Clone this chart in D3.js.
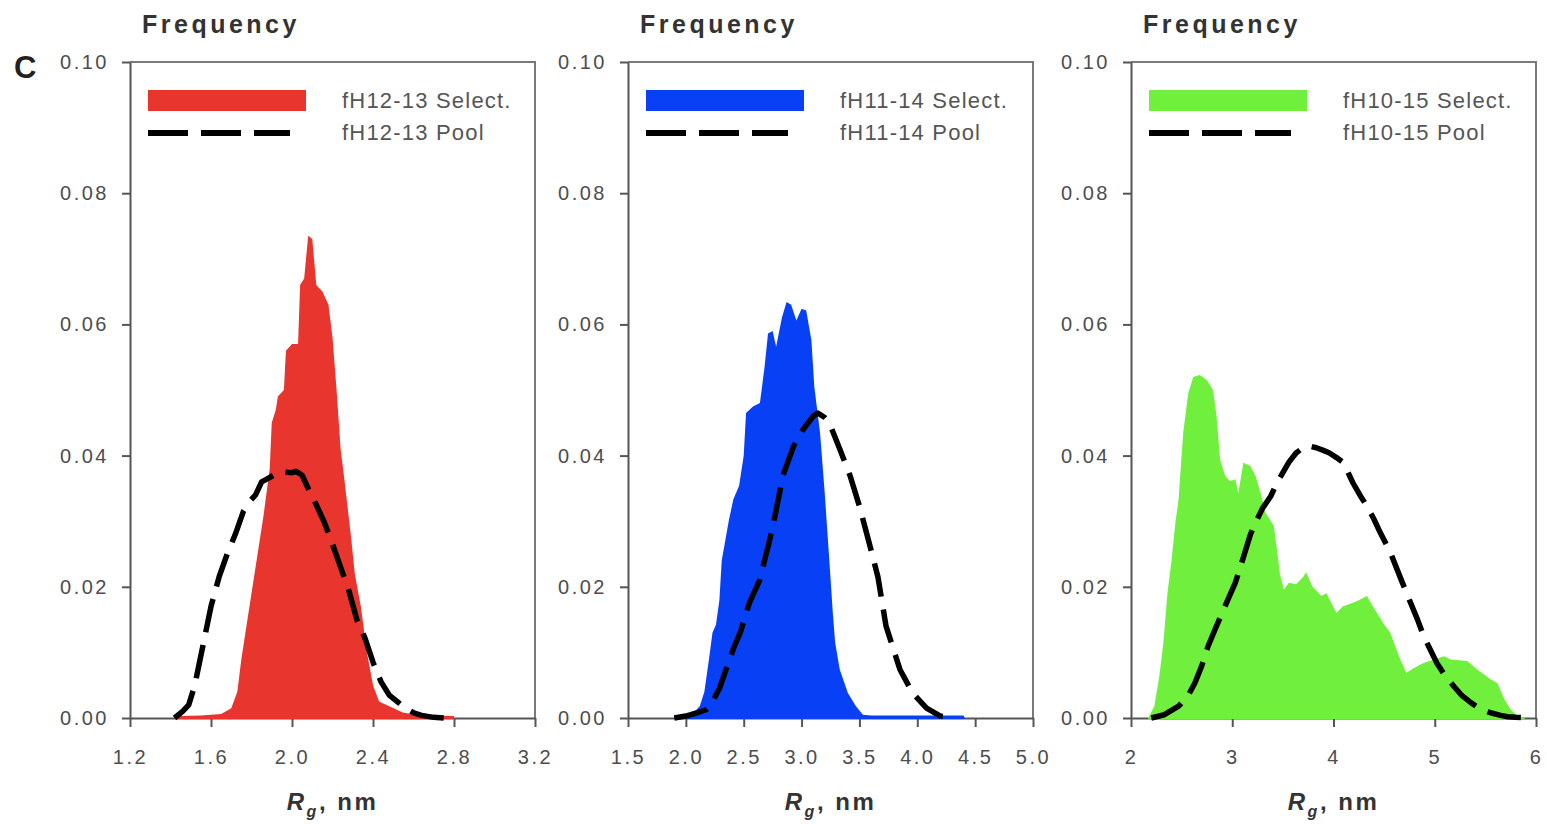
<!DOCTYPE html>
<html><head><meta charset="utf-8">
<script src="https://cdn.jsdelivr.net/npm/d3@7"></script>
<style>
body{margin:0;background:#fff}
svg{display:block}
text{font-family:Arial,"Liberation Sans",Helvetica,sans-serif}
</style>
</head><body>
<svg id="chart" width="1547" height="828"></svg>
<script>
// ---------------- data ----------------
const yTicks = [0, 0.02, 0.04, 0.06, 0.08, 0.10];
const yTickLabels = ["0.00", "0.02", "0.04", "0.06", "0.08", "0.10"];

const xTicks1 = [1.2, 1.6, 2.0, 2.4, 2.8, 3.2];
const xTickLabels1 = ["1.2", "1.6", "2.0", "2.4", "2.8", "3.2"];
const xTicks2 = [1.5, 2.0, 2.5, 3.0, 3.5, 4.0, 4.5, 5.0];
const xTickLabels2 = ["1.5", "2.0", "2.5", "3.0", "3.5", "4.0", "4.5", "5.0"];
const xTicks3 = [2, 3, 4, 5, 6];
const xTickLabels3 = ["2", "3", "4", "5", "6"];

const seriesNames = [
  ["fH12-13 Select.", "fH12-13 Pool"],
  ["fH11-14 Select.", "fH11-14 Pool"],
  ["fH10-15 Select.", "fH10-15 Pool"]
];
const selectColors = ["#E8352D", "#0841F5", "#70EF3C"];

// [Rg (nm), frequency]
const select12_13 = [
  [1.42,0],[1.45,0.0003],[1.55,0.0004],[1.65,0.0006],[1.70,0.0015],[1.73,0.004],
  [1.75,0.009],[1.78,0.015],[1.80,0.019],[1.83,0.025],[1.86,0.031],[1.89,0.038],
  [1.90,0.045],[1.92,0.047],[1.93,0.049],[1.96,0.050],[1.97,0.056],[2.00,0.057],
  [2.03,0.057],[2.04,0.066],[2.06,0.067],[2.08,0.0735],[2.10,0.073],[2.12,0.066],
  [2.15,0.065],[2.18,0.063],[2.20,0.058],[2.22,0.050],[2.24,0.041],[2.26,0.036],
  [2.29,0.028],[2.31,0.022],[2.34,0.017],[2.37,0.010],[2.40,0.005],[2.43,0.0025],
  [2.48,0.0018],[2.55,0.0008],[2.65,0.0004],[2.80,0.0003],[2.80,0]
];
const pool12_13 = [
  [1.42,0],[1.46,0.001],[1.49,0.002],[1.52,0.005],[1.56,0.011],[1.60,0.017],
  [1.64,0.0215],[1.68,0.025],[1.72,0.028],[1.76,0.0315],[1.79,0.033],[1.82,0.034],
  [1.85,0.036],[1.88,0.0365],[1.92,0.0372],[1.96,0.0375],[2.00,0.0374],[2.02,0.0376],
  [2.05,0.037],[2.08,0.035],[2.12,0.0325],[2.16,0.0298],[2.20,0.0265],[2.24,0.023],
  [2.28,0.0195],[2.32,0.015],[2.36,0.0122],[2.40,0.0085],[2.44,0.0055],[2.48,0.0035],
  [2.52,0.0025],[2.56,0.0015],[2.60,0.0008],[2.64,0.0004],[2.70,0.0001],[2.75,0]
];
const select11_14 = [
  [1.90,0],[1.95,0.0002],[2.05,0.0005],[2.12,0.0018],[2.16,0.004],[2.20,0.009],
  [2.23,0.013],[2.26,0.0142],[2.29,0.018],[2.31,0.024],[2.34,0.027],[2.37,0.030],
  [2.41,0.0333],[2.46,0.0354],[2.50,0.040],[2.52,0.0465],[2.58,0.0475],[2.64,0.048],
  [2.68,0.0535],[2.71,0.0586],[2.75,0.059],[2.78,0.0566],[2.83,0.061],[2.87,0.0634],
  [2.91,0.063],[2.955,0.0606],[3.00,0.0624],[3.04,0.0621],[3.085,0.0576],[3.11,0.0505],
  [3.16,0.0434],[3.20,0.0343],[3.24,0.024],[3.27,0.016],[3.29,0.0115],[3.33,0.0074],
  [3.40,0.0038],[3.47,0.0018],[3.53,0.0005],[3.60,0.0004],[4.40,0.0004],[4.41,0]
];
const pool11_14 = [
  [1.90,0],[2.00,0.0003],[2.10,0.0008],[2.18,0.0013],[2.24,0.0028],[2.29,0.0045],
  [2.34,0.007],[2.38,0.009],[2.42,0.011],[2.47,0.013],[2.55,0.0176],[2.64,0.0211],
  [2.68,0.024],[2.75,0.029],[2.84,0.037],[2.93,0.0414],[3.01,0.0439],[3.10,0.046],
  [3.14,0.0465],[3.20,0.0458],[3.24,0.045],[3.33,0.041],[3.42,0.0369],[3.50,0.0323],
  [3.59,0.0263],[3.66,0.0215],[3.73,0.014],[3.85,0.0074],[3.96,0.0038],[4.08,0.0015],
  [4.20,0.0003],[4.30,0]
];
const select10_15 = [
  [2.17,0],[2.23,0.0018],[2.28,0.0064],[2.32,0.0115],[2.36,0.019],[2.40,0.024],
  [2.44,0.030],[2.47,0.0333],[2.515,0.0434],[2.565,0.0495],[2.615,0.052],[2.68,0.0523],
  [2.75,0.0515],[2.81,0.050],[2.845,0.046],[2.88,0.0394],[2.93,0.0369],[2.98,0.0361],
  [3.03,0.0364],[3.06,0.0343],[3.11,0.0389],[3.18,0.0384],[3.23,0.0369],[3.28,0.0343],
  [3.33,0.0313],[3.41,0.0293],[3.445,0.0253],[3.47,0.022],[3.51,0.0196],[3.56,0.0206],
  [3.63,0.0204],[3.70,0.0215],[3.73,0.0222],[3.79,0.0201],[3.88,0.0186],[3.93,0.019],
  [4.03,0.016],[4.09,0.017],[4.23,0.0178],[4.33,0.0186],[4.39,0.017],[4.49,0.0145],
  [4.56,0.013],[4.66,0.0089],[4.72,0.0069],[4.79,0.0076],[4.89,0.0084],[5.09,0.0094],
  [5.16,0.0089],[5.32,0.0087],[5.42,0.0074],[5.55,0.0059],[5.62,0.0053],[5.69,0.0028],
  [5.75,0.0013],[5.82,0.0003],[5.89,0]
];
const pool10_15 = [
  [2.20,0],[2.33,0.0005],[2.47,0.0018],[2.56,0.0033],[2.63,0.0053],[2.70,0.008],
  [2.76,0.0109],[2.83,0.0135],[2.90,0.016],[2.97,0.0185],[3.03,0.0206],[3.08,0.023],
  [3.13,0.0255],[3.18,0.028],[3.23,0.0298],[3.30,0.032],[3.38,0.0338],[3.44,0.0358],
  [3.50,0.0374],[3.56,0.039],[3.63,0.0404],[3.70,0.0412],[3.75,0.0415],[3.83,0.0412],
  [3.90,0.0408],[3.96,0.0404],[4.03,0.0397],[4.10,0.0389],[4.15,0.0372],[4.19,0.0359],
  [4.26,0.034],[4.33,0.0323],[4.40,0.0303],[4.46,0.0283],[4.56,0.0253],[4.66,0.0214],
  [4.76,0.0176],[4.83,0.015],[4.89,0.0125],[4.96,0.0103],[5.02,0.0084],[5.10,0.0065],
  [5.19,0.0048],[5.27,0.0034],[5.36,0.0023],[5.45,0.0014],[5.55,0.0008],[5.65,0.0004],
  [5.72,0.0002],[5.80,0.0001],[5.95,0]
];

// ---------------- layout ----------------
const panelLeft = [130, 628, 1131];
const panelWidth = 405;
const plotTop = 62, plotBottom = 718;

const panels = [
  {domain:[1.2,3.2], ticks:xTicks1, labels:xTickLabels1, sel:select12_13, pool:pool12_13},
  {domain:[1.5,5.0], ticks:xTicks2, labels:xTickLabels2, sel:select11_14, pool:pool11_14},
  {domain:[2,6],     ticks:xTicks3, labels:xTickLabels3, sel:select10_15, pool:pool10_15}
];

const svg = d3.select("#chart");
const y = d3.scaleLinear().domain([0, 0.10]).range([plotBottom, plotTop]);

svg.append("text").attr("x", 14).attr("y", 78)
  .attr("font-size", 31).attr("font-weight", "bold").attr("fill", "#222").text("C");

panels.forEach((p, i) => {
  const L = panelLeft[i], R = L + panelWidth;
  const x = d3.scaleLinear().domain(p.domain).range([L, R]);
  const g = svg.append("g");

  // frame top & right
  g.append("path")
    .attr("d", `M${L},${plotTop}H${R}V${plotBottom}`)
    .attr("fill", "none").attr("stroke", "#7a7a7a").attr("stroke-width", 2);

  // y axis
  const ya = g.append("g").attr("transform", `translate(${L},0)`)
    .call(d3.axisLeft(y).tickValues(yTicks).tickFormat((d, k) => yTickLabels[k])
      .tickSize(8).tickSizeOuter(0).tickPadding(13));
  // x axis
  const xa = g.append("g").attr("transform", `translate(0,${plotBottom})`)
    .call(d3.axisBottom(x).tickValues(p.ticks).tickFormat((d, k) => p.labels[k])
      .tickSize(9).tickSizeOuter(0).tickPadding(23));
  [ya, xa].forEach(a => {
    a.select(".domain").attr("stroke", "#555").attr("stroke-width", 2);
    a.selectAll(".tick line").attr("stroke", "#555").attr("stroke-width", 2);
    a.selectAll(".tick text").attr("font-size", 20).attr("fill", "#4d4d4d")
      .attr("letter-spacing", "2.5px")
      .style("font-family", "Arial, 'Liberation Sans', sans-serif");
  });

  // select histogram (filled)
  const area = d3.area().x(d => x(d[0])).y0(y(0) + 1).y1(d => y(d[1]));
  g.append("path").datum(p.sel).attr("d", area).attr("fill", selectColors[i]);

  // pool (dashed)
  const line = d3.line().x(d => x(d[0])).y(d => y(d[1]));
  g.append("path").datum(p.pool).attr("d", line)
    .attr("fill", "none").attr("stroke", "#000").attr("stroke-width", 5.5)
    .attr("stroke-dasharray", "34,13").attr("stroke-linejoin", "round");

  // legend
  g.append("rect").attr("x", L + 18).attr("y", 90).attr("width", 158).attr("height", 21)
    .attr("fill", selectColors[i]);
  g.append("line").attr("x1", L + 18).attr("x2", L + 160).attr("y1", 133).attr("y2", 133)
    .attr("stroke", "#000").attr("stroke-width", 6).attr("stroke-dasharray", "40,13");
  g.append("text").attr("x", L + 212).attr("y", 108).attr("font-size", 22)
    .attr("letter-spacing", "1.2px").attr("fill", "#555").text(seriesNames[i][0]);
  g.append("text").attr("x", L + 212).attr("y", 140).attr("font-size", 22)
    .attr("letter-spacing", "1.2px").attr("fill", "#555").text(seriesNames[i][1]);

  // y title
  g.append("text").attr("x", L + 12).attr("y", 33).attr("font-size", 25)
    .attr("font-weight", "bold").attr("letter-spacing", "3.5px").attr("fill", "#333")
    .text("Frequency");

  // x title
  const t = g.append("text").attr("x", (L + R) / 2).attr("y", 810)
    .attr("text-anchor", "middle").attr("font-size", 24).attr("font-weight", "bold")
    .attr("letter-spacing", "2.5px").attr("fill", "#333");
  t.append("tspan").attr("font-style", "italic").text("R");
  t.append("tspan").attr("font-style", "italic").attr("font-size", 16).attr("dy", 7).text("g");
  t.append("tspan").attr("dy", -7).text(", nm");
});
</script>
</body></html>
